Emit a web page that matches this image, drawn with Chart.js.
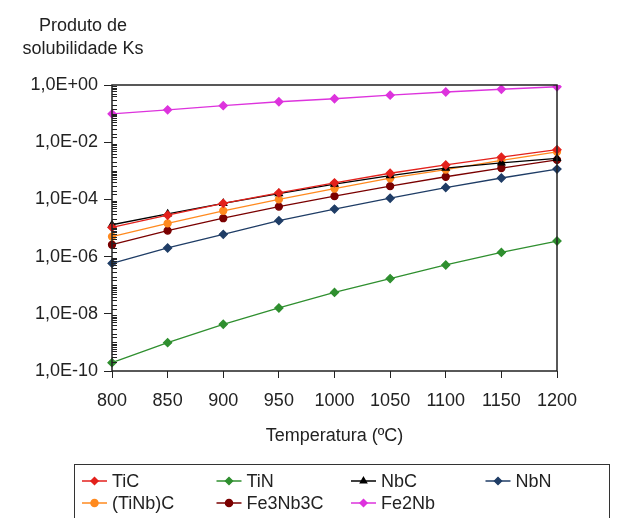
<!DOCTYPE html>
<html lang="pt">
<head>
<meta charset="UTF-8">
<title>Produto de solubilidade Ks</title>
<script src="https://cdn.jsdelivr.net/npm/chart.js"></script>
<style>
  html, body { margin: 0; padding: 0; background: #fff; }
  #wrap { width: 619px; height: 518px; }
</style>
</head>
<body>
<div id="wrap"><canvas id="ksChart" width="619" height="518"></canvas></div>
<script>
// dados
const temperaturas = ['800', '850', '900', '950', '1000', '1050', '1100', '1150', '1200'];
const seriesNomes = ['TiC', 'TiN', 'NbC', 'NbN', '(TiNb)C', 'Fe3Nb3C', 'Fe2Nb'];
const ksTiC     = [1.05e-5, 2.8e-5, 7.3e-5, 1.7e-4, 3.8e-4, 8.2e-4, 1.6e-3, 3.0e-3, 5.5e-3];
const ksTiN     = [1.95e-10, 9.8e-10, 4.3e-9, 1.6e-8, 5.6e-8, 1.7e-7, 5.1e-7, 1.4e-6, 3.5e-6];
const ksNbC     = [1.3e-5, 3.1e-5, 7.3e-5, 1.6e-4, 3.4e-4, 6.8e-4, 1.25e-3, 1.9e-3, 2.7e-3];
const ksNbN     = [5.8e-7, 2.0e-6, 6.0e-6, 1.8e-5, 4.6e-5, 1.1e-4, 2.6e-4, 5.6e-4, 1.15e-3];
const ksTiNbC   = [5.0e-6, 1.45e-5, 4.0e-5, 1.0e-4, 2.4e-4, 5.5e-4, 1.1e-3, 2.3e-3, 4.6e-3];
const ksFe3Nb3C = [2.6e-6, 8.1e-6, 2.2e-5, 5.6e-5, 1.3e-4, 2.9e-4, 6.2e-4, 1.25e-3, 2.4e-3];
const ksFe2Nb   = [0.098, 0.135, 0.19, 0.26, 0.33, 0.44, 0.57, 0.71, 0.87];
const yTicks = ['1,0E+00', '1,0E-02', '1,0E-04', '1,0E-06', '1,0E-08', '1,0E-10'];

const valores = [ksTiC, ksTiN, ksNbC, ksNbN, ksTiNbC, ksFe3Nb3C, ksFe2Nb];
const cores = ['#e3211c', '#2f8f2f', '#000000', '#1f3d66', '#ff8a1f', '#7a0000', '#dd33dd'];
const marcadores = ['rectRot', 'rectRot', 'triangle', 'rectRot', 'circle', 'circle', 'rectRot'];
const FONTE = '"Liberation Sans", Arial, sans-serif';

function rotuloExp(v) {
  const e = Math.round(Math.log10(v));
  if (Math.abs(v / Math.pow(10, e) - 1) > 1e-6) return '';
  const txt = '1,0E' + (e >= 0 ? '+' : '-') + String(Math.abs(e)).padStart(2, '0');
  return yTicks.includes(txt) ? txt : '';
}

// caixa, tracinhos menores, titulo do eixo y e legenda
const extras = {
  id: 'extras',
  afterDraw(chart) {
    const ctx = chart.ctx;
    const a = chart.chartArea;
    const ys = chart.scales.y;
    ctx.save();
    ctx.strokeStyle = '#222';
    ctx.lineWidth = 1.5;
    ctx.strokeRect(a.left, a.top, a.right - a.left, a.bottom - a.top);

    ctx.lineWidth = 1;
    ys.ticks.forEach(t => {
      if (t.label) return;
      const y = Math.round(ys.getPixelForValue(t.value)) + 0.5;
      ctx.beginPath();
      ctx.moveTo(a.left, y);
      ctx.lineTo(a.left + 5, y);
      ctx.stroke();
    });

    ctx.fillStyle = '#222';
    ctx.font = '18px ' + FONTE;
    ctx.textAlign = 'center';
    ctx.textBaseline = 'middle';
    ctx.fillText('Produto de', 83, 26);
    ctx.fillText('solubilidade Ks', 83, 49);

    // legenda
    ctx.strokeStyle = '#333';
    ctx.lineWidth = 1;
    ctx.strokeRect(74.5, 464.5, 535, 80);
    ctx.textAlign = 'left';
    chart.data.datasets.forEach((ds, i) => {
      const x0 = 82 + (i % 4) * 134.5;
      const y0 = 481 + Math.floor(i / 4) * 22;
      ctx.strokeStyle = ds.borderColor;
      ctx.lineWidth = 1.5;
      ctx.beginPath();
      ctx.moveTo(x0, y0);
      ctx.lineTo(x0 + 25, y0);
      ctx.stroke();
      ctx.fillStyle = ds.pointBackgroundColor;
      ctx.strokeStyle = ds.pointBorderColor;
      Chart.helpers.drawPoint(ctx, { pointStyle: ds.pointStyle, radius: 3.5, rotation: 0, borderWidth: 1 }, x0 + 12.5, y0);
      ctx.fillStyle = '#222';
      ctx.fillText(ds.label, x0 + 30, y0 + 1);
    });
    ctx.restore();
  }
};

const datasets = seriesNomes.map((nome, i) => ({
  label: nome,
  data: valores[i],
  borderColor: cores[i],
  backgroundColor: cores[i],
  pointBackgroundColor: cores[i],
  pointBorderColor: cores[i],
  pointStyle: marcadores[i],
  pointRadius: marcadores[i] === 'circle' ? 3.5 : 4,
  borderWidth: 1.3,
  tension: 0,
  fill: false
}));

new Chart(document.getElementById('ksChart'), {
  type: 'line',
  data: { labels: temperaturas, datasets: datasets },
  options: {
    responsive: false,
    animation: false,
    layout: { padding: { top: 85, right: 62, bottom: 60, left: 0 } },
    plugins: {
      legend: { display: false },
      tooltip: { enabled: false }
    },
    scales: {
      x: {
        type: 'category',
        offset: false,
        border: { display: false },
        grid: { drawOnChartArea: false, tickLength: 7, tickColor: '#222', tickWidth: 1 },
        ticks: { color: '#222', font: { family: FONTE, size: 18 }, padding: 12, maxRotation: 0, autoSkip: false },
        title: { display: true, text: 'Temperatura (ºC)', color: '#222', font: { family: FONTE, size: 18 }, padding: { top: 0, bottom: 11 } },
        afterFit(s) { s.height = 87; }
      },
      y: {
        type: 'logarithmic',
        min: 1e-10,
        max: 1,
        border: { display: false },
        grid: {
          drawOnChartArea: false,
          tickLength: 8,
          tickWidth: 1,
          tickColor: c => (c.tick && c.tick.label) ? '#222' : 'rgba(0,0,0,0)'
        },
        ticks: {
          color: '#222',
          font: { family: FONTE, size: 18 },
          padding: 6,
          autoSkip: false,
          callback: v => rotuloExp(v)
        },
        afterFit(s) { s.width = 112; }
      }
    }
  },
  plugins: [extras]
});
</script>
</body>
</html>
